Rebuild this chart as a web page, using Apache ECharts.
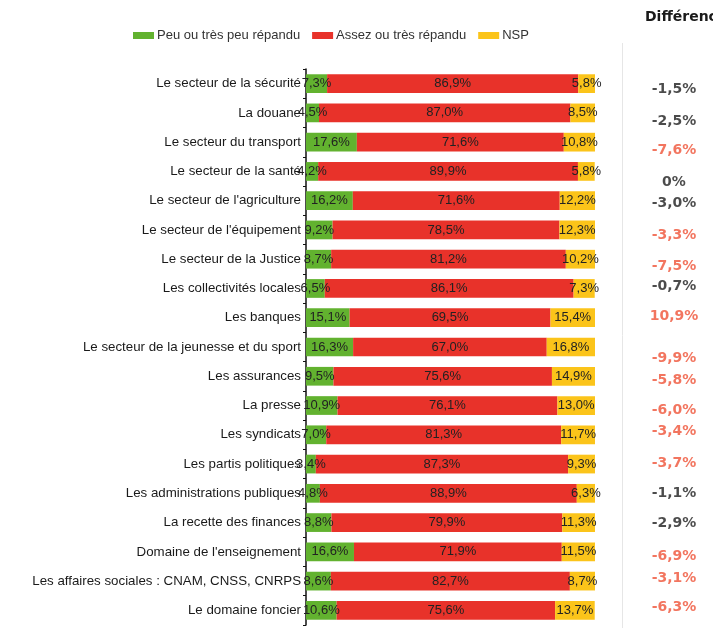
<!DOCTYPE html>
<html>
<head>
<meta charset="utf-8">
<script src="https://cdn.jsdelivr.net/npm/echarts@6/dist/echarts.min.js"></script>
<style>
  html, body { margin: 0; padding: 0; background: #ffffff; }
  #chart { width: 713px; height: 628px; }
</style>
</head>
<body>
<div id="chart"></div>
<script>
// Perception par secteur : part des réponses (en %)
const categories = [
  "Le secteur de la sécurité",
  "La douane",
  "Le secteur du transport",
  "Le secteur de la santé",
  "Le secteur de l'agriculture",
  "Le secteur de l'équipement",
  "Le secteur de la Justice",
  "Les collectivités locales",
  "Les banques",
  "Le secteur de la jeunesse et du sport",
  "Les assurances",
  "La presse",
  "Les syndicats",
  "Les partis politiques",
  "Les administrations publiques",
  "La recette des finances",
  "Domaine de l'enseignement",
  "Les affaires sociales : CNAM, CNSS, CNRPS",
  "Le domaine foncier"
];

const peuRepandu   = [7.3, 4.5, 17.6, 4.2, 16.2, 9.2, 8.7, 6.5, 15.1, 16.3, 9.5, 10.9, 7.0, 3.4, 4.8, 8.8, 16.6, 8.6, 10.6];
const assezRepandu = [86.9, 87.0, 71.6, 89.9, 71.6, 78.5, 81.2, 86.1, 69.5, 67.0, 75.6, 76.1, 81.3, 87.3, 88.9, 79.9, 71.9, 82.7, 75.6];
const nsp          = [5.8, 8.5, 10.8, 5.8, 12.2, 12.3, 10.2, 7.3, 15.4, 16.8, 14.9, 13.0, 11.7, 9.3, 6.3, 11.3, 11.5, 8.7, 13.7];

// Écart (points) affiché dans la colonne de droite
const difference = [-1.5, -2.5, -7.6, 0, -3.0, -3.3, -7.5, -0.7, 10.9, -9.9, -5.8, -6.0, -3.4, -3.7, -1.1, -2.9, -6.9, -3.1, -6.3];

const seriesNames = ["Peu ou très peu répandu", "Assez ou très répandu", "NSP"];

// --- mise en forme ---
const FONT = "'Liberation Sans', Arial, sans-serif";
const colors = ['#62b22f', '#e8322a', '#fbc41a'];
const diffRed = '#ef5337';
const diffDark = '#1e1e1e';
// léger décalage vertical des textes de la colonne « Différence »
const diffShift = [6, 8, 8, 11, 3, 5, 7, -2, -1, 11, 4, 5, -3, -1, 0, 1, 5, -3, -3];

const fmt = v => (v === 0 ? '0' : v.toFixed(1).replace('.', ',')) + '%';

const chart = echarts.init(document.getElementById('chart'), null, { renderer: 'canvas' });

const barSeries = [peuRepandu, assezRepandu, nsp].map((vals, k) => ({
  name: seriesNames[k],
  type: 'bar',
  stack: 'total',
  xAxisIndex: 0,
  yAxisIndex: 0,
  barCategoryGap: '36%',
  data: vals,
  itemStyle: { color: colors[k] },
  label: {
    show: true,
    position: 'inside',
    formatter: p => fmt(p.value),
    color: '#222',
    fontFamily: FONT,
    fontSize: 13
  },
  emphasis: { disabled: true },
  animation: false
}));

const diffSeries = {
  type: 'scatter',
  xAxisIndex: 1,
  yAxisIndex: 1,
  symbolSize: 0,
  itemStyle: { color: 'transparent' },
  data: difference.map((d, i) => ({
    value: [0.5, i],
    label: {
      show: true,
      position: 'inside',
      offset: [0, diffShift[i]],
      formatter: fmt(d),
      color: Math.abs(d) > 3 ? diffRed : diffDark,
      fontFamily: "'DejaVu Sans', Verdana, sans-serif",
      fontWeight: 'bold',
      fontSize: 14
    }
  })),
  silent: true,
  animation: false
};

chart.setOption({
  backgroundColor: '#ffffff',
  animation: false,
  title: {
    text: 'Différence',
    left: 640,
    top: 5,
    textStyle: {
      fontFamily: "'DejaVu Sans', Verdana, sans-serif",
      fontWeight: 'bold',
      fontSize: 14,
      color: '#1a1a1a'
    }
  },
  legend: {
    left: 128,
    top: 24,
    icon: 'rect',
    itemWidth: 21,
    itemHeight: 7,
    itemGap: 12,
    selectedMode: false,
    data: seriesNames,
    textStyle: { fontFamily: FONT, fontSize: 13, color: '#333', padding: [0, 0, 0, -2] }
  },
  grid: [
    { left: 306, right: 118, top: 69, bottom: 3 },
    { left: 635, right: 0, top: 69, bottom: 3 }
  ],
  xAxis: [
    { type: 'value', gridIndex: 0, min: 0, max: 100, show: false },
    { type: 'value', gridIndex: 1, min: 0, max: 1, show: false }
  ],
  yAxis: [
    {
      type: 'category',
      gridIndex: 0,
      inverse: true,
      data: categories,
      axisLine: { show: true, lineStyle: { color: '#111', width: 1.5 } },
      axisTick: { show: true, length: 3, lineStyle: { color: '#111' } },
      axisLabel: {
        margin: 5,
        color: '#1a1a1a',
        fontFamily: FONT,
        fontSize: 13.3
      }
    },
    {
      type: 'category',
      gridIndex: 1,
      inverse: true,
      data: categories,
      show: false
    }
  ],
  graphic: [{
    type: 'line',
    shape: { x1: 622.5, y1: 43, x2: 622.5, y2: 628 },
    style: { stroke: '#e6e6e6', lineWidth: 1 },
    silent: true
  }],
  series: [...barSeries, diffSeries]
});
</script>
</body>
</html>
